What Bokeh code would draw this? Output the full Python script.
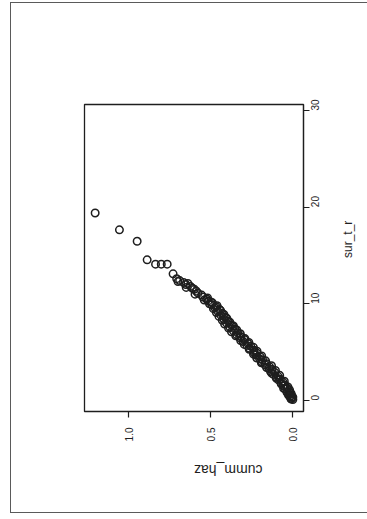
from math import pi
from bokeh.plotting import figure
from bokeh.models import (Range1d, LinearAxis, FixedTicker, NumeralTickFormatter,
                          ColumnDataSource, InlineStyleSheet)
from bokeh.embed import file_html
from bokeh.resources import INLINE

# --- data ---
sur_t_r = [0.1, 0.2, 0.3, 0.4, 0.5, 0.6, 0.8, 0.9, 1.0, 1.2, 1.3, 1.5, 1.6, 1.8, 1.9,
           2.1, 2.2, 2.4, 2.5, 2.7, 2.9, 3.0, 3.2, 3.3, 3.5, 3.7, 3.8, 4.0, 4.2, 4.3,
           4.5, 4.7, 4.9, 5.0, 5.2, 5.4, 5.6, 5.7, 5.9, 6.1, 6.3, 6.5, 6.6, 6.8, 7.0,
           7.2, 7.4, 7.6, 7.8, 8.0, 8.2, 8.4, 8.6, 8.8, 9.0, 9.2, 9.4, 9.6, 9.7, 9.9,
           10.1, 10.3, 10.5, 10.7, 10.9, 11.1, 11.3, 11.6, 11.8, 12.0, 12.2, 12.4, 12.6,
           13.1, 14.1, 14.1, 14.1, 14.55, 16.47, 17.65, 19.4,
           0.15, 0.35, 0.55, 0.7, 0.85, 1.1, 1.25, 1.4, 1.7, 2.0, 2.3, 2.6, 2.8, 3.1,
           3.4, 3.6, 3.9, 4.1, 4.4, 4.6, 4.8, 5.1, 5.3, 5.5, 5.8, 6.0, 6.2, 6.4, 6.7,
           6.9, 7.1, 7.3, 7.5, 7.7, 7.9, 8.1, 8.3, 8.5, 8.7, 8.9, 9.1, 9.3, 9.5, 9.8,
           10.0, 10.2, 10.4, 10.6, 11.0, 11.5, 11.7, 12.1, 12.3]
cumm_haz = [0.000, 0.012, 0.004, 0.018, 0.008, 0.024, 0.016, 0.034, 0.024, 0.046, 0.036,
            0.058, 0.048, 0.072, 0.060, 0.086, 0.076, 0.102, 0.090, 0.118, 0.110, 0.136,
            0.126, 0.146, 0.142, 0.170, 0.160, 0.190, 0.184, 0.202, 0.198, 0.226, 0.220,
            0.238, 0.236, 0.264, 0.256, 0.280, 0.274, 0.304, 0.296, 0.324, 0.316, 0.342,
            0.336, 0.362, 0.354, 0.384, 0.374, 0.404, 0.394, 0.420, 0.410, 0.438, 0.430,
            0.456, 0.446, 0.476, 0.468, 0.494, 0.490, 0.516, 0.526, 0.548, 0.556, 0.578,
            0.588, 0.612, 0.624, 0.652, 0.666, 0.690, 0.708, 0.730, 0.766, 0.802, 0.837,
            0.888, 0.949, 1.057, 1.205,
            0.010, 0.000, 0.026, 0.010, 0.036, 0.020, 0.056, 0.030, 0.070, 0.052, 0.100,
            0.080, 0.128, 0.106, 0.160, 0.130, 0.192, 0.166, 0.220, 0.190, 0.240, 0.218,
            0.266, 0.240, 0.296, 0.268, 0.318, 0.292, 0.348, 0.320, 0.374, 0.342, 0.392,
            0.362, 0.416, 0.384, 0.430, 0.402, 0.450, 0.420, 0.466, 0.440, 0.484, 0.462,
            0.508, 0.500, 0.540, 0.520, 0.596, 0.600, 0.650, 0.640, 0.700]
haz_ticks = [0.0, 0.5, 1.0]
time_ticks = [0, 10, 20, 30]
x_title = "sur_t_r"
y_title = "cumm_haz"

FONT = "Liberation Sans"
INK = "#1e1e1e"

# frame position on the page (px)
FL, FR, FT, FB = 84, 303, 104, 411

page_border = InlineStyleSheet(css="""
:host { position: relative; }
:host::after {
  content: "";
  position: absolute;
  left: 10px; top: 2px; right: -6px; bottom: 6px;
  border: 1.5px solid #5a5a5a;
  pointer-events: none;
  z-index: 10;
}
""")

p = figure(width=367, height=519, output_backend="svg", toolbar_location=None,
           x_range=Range1d(1.27, -0.065), y_range=Range1d(-1.14, 30.62),
           x_axis_location=None, y_axis_location=None,
           min_border_left=FL, min_border_right=367 - FR, min_border_top=FT,
           min_border_bottom=519 - FB, stylesheets=[page_border])
p.grid.visible = False
p.background_fill_color = "white"
p.border_fill_color = "white"
p.outline_line_color = INK
p.outline_line_width = 1.3

src = ColumnDataSource(dict(h=cumm_haz, t=sur_t_r))
p.scatter("h", "t", source=src, marker="circle", size=7.5, fill_color=None,
          line_color=INK, line_width=1.5)

def style_axis(ax, ticks, fmt, standoff):
    ax.ticker = FixedTicker(ticks=ticks)
    if fmt:
        ax.formatter = NumeralTickFormatter(format=fmt)
    ax.minor_tick_line_color = None
    ax.major_tick_in = 0
    ax.major_tick_out = 6
    ax.major_tick_line_color = INK
    ax.major_tick_line_width = 1.2
    ax.axis_line_color = INK
    ax.axis_line_width = 1.2
    ax.major_label_text_font = FONT
    ax.major_label_text_font_size = "10px"
    ax.major_label_text_color = INK
    ax.major_label_orientation = pi / 2
    ax.major_label_standoff = standoff
    ax.axis_label_text_font = FONT
    ax.axis_label_text_font_style = "normal"
    ax.axis_label_text_color = INK

xa = LinearAxis(axis_label=y_title)
style_axis(xa, haz_ticks, "0.0", 10)
xa.axis_label_orientation = pi
xa.axis_label_text_font_size = "14px"
xa.axis_label_standoff = 26
p.add_layout(xa, "below")

ya = LinearAxis(axis_label=x_title)
style_axis(ya, time_ticks, None, 6)
ya.axis_label_orientation = pi / 2
ya.axis_label_text_font_size = "12px"
ya.axis_label_standoff = 21
p.add_layout(ya, "right")

open("out.html", "w").write(file_html(p, INLINE))
